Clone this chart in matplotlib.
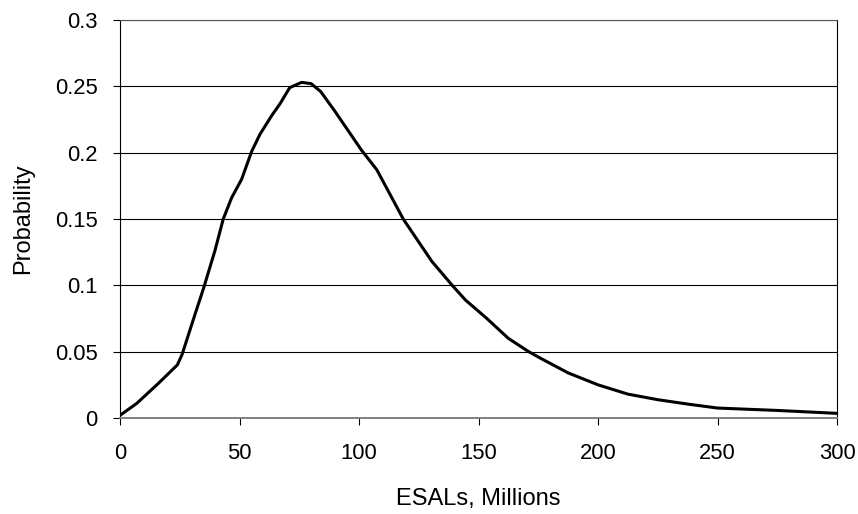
import matplotlib
matplotlib.use('Agg')
from matplotlib import pyplot as plt

plt.rcParams['font.family'] = ['Liberation Sans', 'DejaVu Sans']

# values
esals = [0, 7, 16, 20, 24, 26, 31, 35, 39.7, 43.2, 46.7, 50.9, 55.1, 58.6,
         63.5, 67, 71, 76, 80, 84, 90, 101, 107.5, 118.5, 130.5, 139, 144.5,
         153.5, 162.5, 171, 176, 187.5, 200, 212.5, 225, 237.5, 250, 275, 300]
prob = [0.002, 0.011, 0.026, 0.033, 0.040, 0.048, 0.076, 0.098, 0.126, 0.150,
        0.166, 0.180, 0.201, 0.214, 0.228, 0.237, 0.249, 0.253, 0.252, 0.246,
        0.231, 0.202, 0.187, 0.150, 0.118, 0.100, 0.089, 0.075, 0.060, 0.050,
        0.045, 0.034, 0.025, 0.018, 0.0138, 0.0105, 0.0075, 0.0057, 0.0035]

xticks = [0, 50, 100, 150, 200, 250, 300]
yticks = [0, 0.05, 0.1, 0.15, 0.2, 0.25, 0.3]
ylabels = ['0', '0.05', '0.1', '0.15', '0.2', '0.25', '0.3']

fig = plt.figure(figsize=(8.58, 5.14), dpi=100)
ax = fig.add_axes([120 / 858, 1 - 418 / 514, 717 / 858, 398 / 514])

ax.plot(esals, prob, color='black', lw=2.2, zorder=3)

ax.set_xlim(0, 300)
ax.set_ylim(0, 0.3)
ax.set_xticks(xticks)
ax.set_yticks(yticks)
ax.set_yticklabels(ylabels)
ax.grid(axis='y', color='black', lw=0.8)
ax.set_axisbelow(True)

ax.tick_params(axis='x', direction='out', length=5, width=0.8, pad=13, labelsize=15.8)
ax.tick_params(axis='y', direction='out', length=5, width=0.8, pad=11, labelsize=15.8)

ax.spines['top'].set_color('#555555')
ax.spines['top'].set_linewidth(0.8)
ax.spines['bottom'].set_color('#808080')
ax.spines['bottom'].set_linewidth(1.4)
ax.spines['left'].set_linewidth(0.8)
ax.spines['right'].set_linewidth(0.8)

ax.set_xlabel('ESALs, Millions', fontsize=17)
ax.set_ylabel('Probability', fontsize=17)
ax.xaxis.set_label_coords(0.5, (418 - 488) / 398)
ax.yaxis.set_label_coords((34 - 120) / 717, 0.5)

fig.savefig('out.png', dpi=100)
